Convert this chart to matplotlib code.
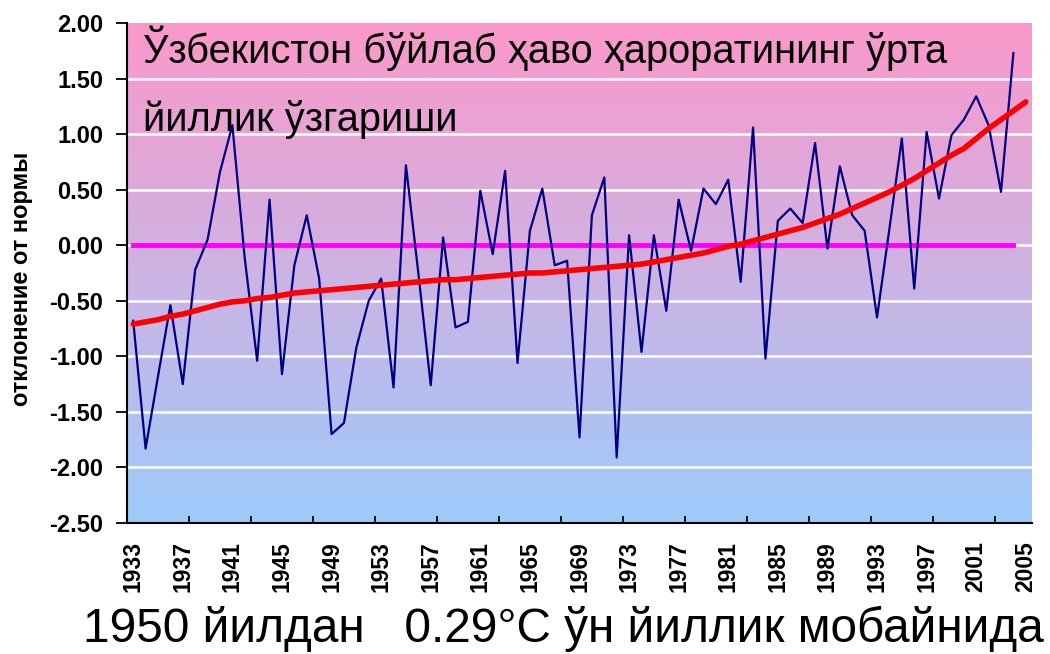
import numpy as np
import matplotlib
matplotlib.use('Agg')
import matplotlib.pyplot as plt
from matplotlib.colors import LinearSegmentedColormap

plt.rcParams['font.family'] = ['Liberation Sans', 'DejaVu Sans']

years = list(range(1933, 2006))
# annual anomaly 1933-2004
anomaly = [-0.68, -1.83, -1.18, -0.54, -1.25, -0.22, 0.05, 0.66, 1.08, -0.12,
           -1.04, 0.41, -1.16, -0.18, 0.27, -0.30, -1.70, -1.60, -0.92, -0.50,
           -0.30, -1.28, 0.72, -0.25, -1.26, 0.07, -0.74, -0.69, 0.49, -0.08,
           0.67, -1.06, 0.13, 0.51, -0.18, -0.14, -1.73, 0.27, 0.61, -1.91,
           0.09, -0.96, 0.09, -0.59, 0.41, -0.05, 0.51, 0.37, 0.59, -0.33,
           1.06, -1.02, 0.22, 0.33, 0.20, 0.92, -0.03, 0.71, 0.27, 0.13,
           -0.65, 0.15, 0.96, -0.39, 1.02, 0.42, 0.99, 1.13, 1.34, 1.08,
           0.48, 1.73]
# trend 1933-2005
trend = [-0.71, -0.69, -0.67, -0.64, -0.62, -0.59, -0.56, -0.53, -0.51, -0.50,
         -0.48, -0.47, -0.45, -0.43, -0.42, -0.41, -0.40, -0.39, -0.38, -0.37,
         -0.36, -0.35, -0.34, -0.33, -0.32, -0.31, -0.31, -0.30, -0.29, -0.28,
         -0.27, -0.26, -0.25, -0.25, -0.24, -0.23, -0.22, -0.21, -0.20, -0.19,
         -0.18, -0.17, -0.15, -0.13, -0.11, -0.09, -0.07, -0.04, -0.01, 0.01,
         0.04, 0.07, 0.10, 0.13, 0.16, 0.20, 0.24, 0.28, 0.33, 0.38,
         0.43, 0.48, 0.54, 0.60, 0.67, 0.74, 0.81, 0.87, 0.96, 1.05,
         1.13, 1.21, 1.29]
tick_years = years[::4]
y_ticks = [-2.5, -2.0, -1.5, -1.0, -0.5, 0.0, 0.5, 1.0, 1.5, 2.0]

title1 = 'Ўзбекистон бўйлаб ҳаво ҳароратининг ўрта'
title2 = 'йиллик ўзгариши'
bottom_text = '1950 йилдан   0.29°C ўн йиллик мобайнида'
ylabel = 'отклонение от нормы'

fig = plt.figure(figsize=(10.5, 6.54), dpi=100)
ax = fig.add_axes([127/1050, 1 - 523/654, (1032 - 127)/1050, 500/654])

x = np.arange(len(years))
xa = x[:len(anomaly)]

# gradient background
cmap = LinearSegmentedColormap.from_list('bg', ['#9DCBFB', '#CDB3E3', '#FB98CA'])
grad = np.linspace(0, 1, 256).reshape(-1, 1)
ax.imshow(grad, cmap=cmap, origin='lower', aspect='auto',
          extent=[-0.5, len(years) - 0.5, -2.5, 2.0], zorder=0)

for yv in y_ticks[1:-1]:
    ax.axhline(yv, color='white', lw=1.8, zorder=1)

ax.plot(xa, np.zeros(len(xa)), color='#FF00FF', lw=3.5, zorder=2)
ax.plot(xa, anomaly, color='#000080', lw=1.6, zorder=3)
ax.plot(x, trend, color='#FF0000', lw=4, zorder=4, solid_capstyle='round')

ax.set_xlim(-0.5, len(years) - 0.5)
ax.set_ylim(-2.5, 2.0)

ax.set_yticks(y_ticks)
ax.set_yticklabels([f'{v:.2f}' for v in y_ticks], fontsize=17, fontweight='bold')
ax.tick_params(axis='y', direction='out', length=8, width=1.3, pad=9)

ax.set_xticks(np.arange(-0.5, len(years), 5))
ax.set_xticklabels([])
ax.set_xticks([years.index(yr) for yr in tick_years], minor=True)
ax.set_xticklabels([str(yr) for yr in tick_years], minor=True,
                   rotation=90, fontsize=16.5, fontweight='bold')
ax.tick_params(axis='x', which='major', direction='in', length=5, width=1.3)
ax.tick_params(axis='x', which='minor', length=0, pad=13)

for s in ['top', 'right']:
    ax.spines[s].set_visible(False)
for s in ['left', 'bottom']:
    ax.spines[s].set_linewidth(1.5)
    ax.spines[s].set_color('black')

fig.text(22/1050, 1 - 279/654, ylabel, rotation=90, fontsize=17,
         fontweight='bold', ha='center', va='center')

t1 = fig.text(143/1050, 1 - 63/654, title1, fontsize=26, va='baseline',
              family=['Liberation Sans Narrow', 'Liberation Sans', 'DejaVu Sans'])
t2 = fig.text(143/1050, 1 - 131/654, title2, fontsize=26, va='baseline',
              family=['Liberation Sans Narrow', 'Liberation Sans', 'DejaVu Sans'])
tb = fig.text(83/1050, 1 - 642/654, bottom_text, fontsize=30, va='baseline')

# fit text widths to the reference
fig.canvas.draw()
r = fig.canvas.get_renderer()
w1 = t1.get_window_extent(r).width
s1 = t1.get_fontsize() * 805 / w1
t1.set_fontsize(s1)
t2.set_fontsize(s1)
wb = tb.get_window_extent(r).width
tb.set_fontsize(tb.get_fontsize() * 962 / wb)

fig.savefig('out.png', dpi=100)
